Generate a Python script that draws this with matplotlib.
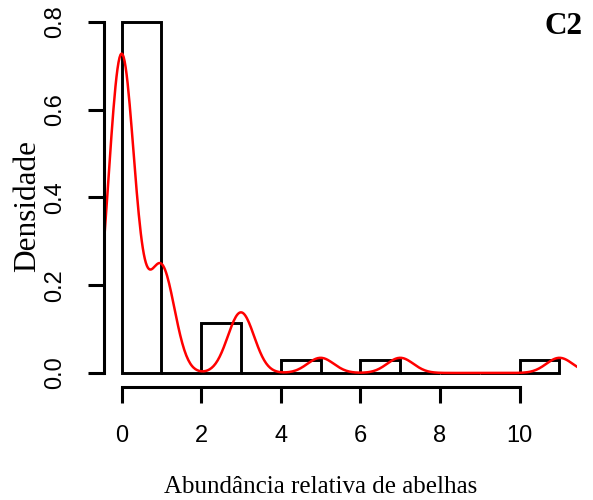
import numpy as np
import matplotlib.pyplot as plt

# raw observations (relative bee abundance), n = 35
obs_values = [0, 1, 3, 5, 7, 11]
obs_counts = [21, 7, 4, 1, 1, 1]
bin_edges = list(range(0, 12))
x_ticks = [0, 2, 4, 6, 8, 10]
y_ticks = [0.0, 0.2, 0.4, 0.6, 0.8]

data = np.repeat(obs_values, obs_counts).astype(float)
n = len(data)
edges = np.array(bin_edges, dtype=float)

# right-closed bins like R's hist()
idx = np.clip(np.searchsorted(edges, data, side='left') - 1, 0, len(edges) - 2)
counts = np.bincount(idx, minlength=len(edges) - 1)
dens = counts / (n * np.diff(edges))

# gaussian kernel density, bw.nrd0 rule
q25, q75 = np.percentile(data, [25, 75])
bw = 0.9 * min(data.std(ddof=1), (q75 - q25) / 1.34) * n ** -0.2
xs = np.linspace(data.min() - 3 * bw, data.max() + 3 * bw, 512)
kde = np.exp(-0.5 * ((xs[:, None] - data[None, :]) / bw) ** 2).sum(axis=1) / (n * bw * np.sqrt(2 * np.pi))

fig = plt.figure(figsize=(5.93, 5.0), dpi=100)
ax = fig.add_axes([104 / 593, 113 / 500, 473 / 593, 379 / 500])

ax.bar(edges[:-1], dens, width=np.diff(edges), align='edge', fill=False,
       edgecolor='black', linewidth=2.1)
ax.plot(xs, kde, color='red', linewidth=1.8, clip_on=True)

ax.set_xlim(-0.44, 11.44)
ax.set_ylim(-0.032, 0.832)

for s in ['top', 'right']:
    ax.spines[s].set_visible(False)
ax.spines['bottom'].set_bounds(0, 10)
ax.spines['left'].set_bounds(0, 0.8)
for s in ['bottom', 'left']:
    ax.spines[s].set_linewidth(2.2)

ax.set_xticks(x_ticks)
ax.set_yticks(y_ticks)
ax.set_xticklabels([str(t) for t in x_ticks])
ax.set_yticklabels(['%.1f' % t for t in y_ticks], rotation=90, va='center')
ax.tick_params(length=11.5, width=2.2, pad=16, labelsize=17)
for lab in ax.get_xticklabels() + ax.get_yticklabels():
    lab.set_family('Liberation Sans')

fig.text(321 / 593, 7 / 500, 'Abundância relativa de abelhas', ha='center', va='baseline',
         family='Liberation Serif', fontsize=18)
fig.text(28 / 593, 1 - 206 / 500, 'Densidade', ha='center', va='center', rotation=90,
         family='Liberation Serif', fontsize=22.5)
fig.text(583 / 593, 1 - 27 / 500, 'C2', ha='right', va='center',
         family='Liberation Serif', fontweight='bold', fontsize=22.5)

fig.savefig('out.png', dpi=100)
